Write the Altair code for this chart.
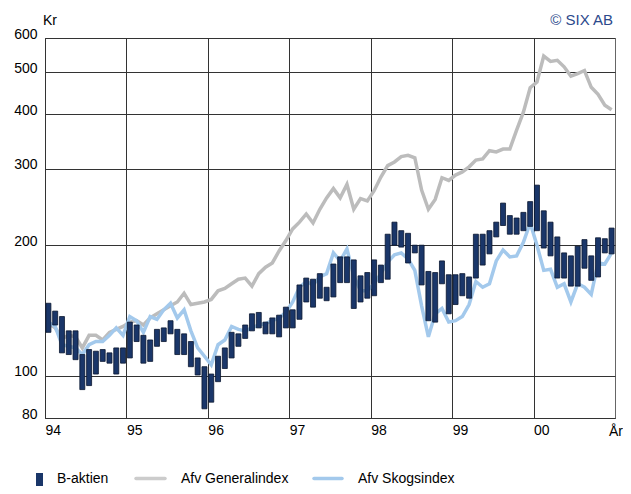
import altair as alt
import pandas as pd

start_year = 1994
year_ticks = [1994, 1995, 1996, 1997, 1998, 1999, 2000]
y_ticks = [80, 100, 200, 300, 400, 500, 600]

# B-aktien monthly range (high / low), Jan 1994 - Dec 2000
b_high = [147, 141, 137, 127, 127, 112, 115, 114, 115, 113, 116, 116,
          133, 131, 124, 121, 128, 129, 134, 128, 125, 120, 110, 105,
          101, 111, 116, 126, 125, 131, 139, 140, 133, 136, 138, 144,
          142, 162, 168, 167, 172, 160, 181, 188, 188, 185, 170, 173,
          185, 180, 212, 226, 216, 213, 200, 200, 174, 173, 184, 171,
          171, 172, 169, 212, 212, 216, 226, 250, 234, 231, 238, 252,
          275, 240, 226, 209, 192, 189, 199, 206, 189, 208, 207, 219]
b_low = [126, 131, 113, 112, 109, 93, 95, 101, 108, 107, 101, 107,
         110, 120, 107, 108, 117, 120, 125, 112, 112, 105, 100.5, 84,
         87, 97, 104, 110, 117, 122, 127, 129, 125, 125, 123, 129,
         129, 135, 148, 144, 151, 149, 152, 164, 164, 143, 148, 151,
         153, 164, 167, 200, 198, 182, 192, 162, 134, 133, 163, 139,
         146, 153, 151, 168, 180, 191, 209, 222, 212, 212, 216, 221,
         216, 197, 189, 168, 168, 161, 161, 177, 166, 169, 192, 191]

# Afv Generalindex (monthly)
general = [132, 129, 122, 124, 123, 116, 124, 124, 121, 126, 128, 130,
           133, 134, 131, 136, 139, 142, 145, 148, 155, 146, 147, 148,
           150, 157, 159, 163, 167, 168, 161, 172, 178, 182, 194, 205,
           218, 226, 236, 225, 242, 257, 270, 257, 276, 242, 256, 253,
           267, 287, 305, 311, 320, 322, 318, 268, 242, 255, 286, 282,
           290, 295, 303, 314, 316, 330, 328, 333, 333, 368, 405, 461,
           475, 545, 530, 533, 515, 490, 497, 505, 462, 445, 420, 410]

# Afv Skogsindex (monthly)
skog = [133, 130, 118, 117, 116, 112, 118, 120, 120, 124, 129, 124,
        137, 134, 126, 137, 135, 142, 147, 136, 142, 127, 116, 111,
        106, 118, 121, 130, 128, 127, 129, 131, 132, 134, 136, 140,
        148, 160, 165, 162, 169, 172, 192, 184, 196, 170, 157, 157,
        163, 172, 183, 190, 192, 186, 175, 145, 123, 139, 143, 133,
        134, 137, 146, 165, 160, 163, 184, 195, 188, 189, 203, 225,
        200, 175, 176, 160, 163, 148, 163, 160, 154, 182, 181, 192]

t = [start_year + (i + 0.5) / 12 for i in range(len(b_high))]
df = pd.DataFrame({"t": t, "high": b_high, "low": b_low,
                   "gen": general, "skog": skog})

FONT = "Liberation Sans"
NAVY = "#1a3669"
GREY = "#bcbcbc"
BLUE = "#a3c9ec"
GRID = "#333333"

xs = alt.Scale(domain=[1994, 2001], nice=False, zero=False, padding=0)
ys = alt.Scale(type="log", domain=[80, 600], nice=False, padding=0)

x_axis = alt.Axis(values=year_ticks,
                  labelExpr="substring(toString(datum.value), 2, 4)",
                  labelAlign="left", labelBaseline="top", labelPadding=5,
                  labelFlush=False, labelBound=False, labelOverlap=False,
                  ticks=False, grid=True, gridColor=GRID, gridWidth=1,
                  domain=True, domainColor=GRID, labelFontSize=14,
                  labelColor="#000", labelFont=FONT, title=None)
y_axis = alt.Axis(values=y_ticks, format="d", labelPadding=8,
                  labelBaseline="alphabetic", labelOverlap=False,
                  ticks=False, grid=True, gridColor=GRID, gridWidth=1,
                  domain=True, domainColor=GRID, labelFontSize=14,
                  labelColor="#000", labelFont=FONT, title=None)

base = alt.Chart(df)

gen_line = base.mark_line(color=GREY, strokeWidth=3.5).encode(
    x=alt.X("t:Q", scale=xs, axis=x_axis),
    y=alt.Y("gen:Q", scale=ys, axis=y_axis))

skog_line = base.mark_line(color=BLUE, strokeWidth=3.5).encode(
    x=alt.X("t:Q", scale=xs, axis=x_axis),
    y=alt.Y("skog:Q", scale=ys, axis=y_axis))

bars = base.mark_bar(size=5, fill=NAVY, stroke="#0a1630",
                     strokeWidth=0.8).encode(
    x=alt.X("t:Q", scale=xs, axis=x_axis),
    y=alt.Y("low:Q", scale=ys, axis=y_axis),
    y2="high:Q")

one = alt.Chart(pd.DataFrame({"a": [0]}))


def label(txt, x, y, align="left", size=14, color="#000"):
    return one.mark_text(text=txt, align=align, baseline="alphabetic",
                         fontSize=size, font=FONT, color=color).encode(
        x=alt.value(x), y=alt.value(y))


kr = label("Kr", -2, -13)
six = label("© SIX AB", 568, -13, align="right", size=15, color="#2c4a8c")
ar = label("År", 564, 398)

leg_box = one.mark_rect(color=NAVY).encode(
    x=alt.value(-9), x2=alt.value(-2), y=alt.value(435), y2=alt.value(448))
leg_t1 = label("B-aktien", 12, 445)
leg_gen = one.mark_rule(color="#cccccc", strokeWidth=3.5, strokeCap="round").encode(
    x=alt.value(91), x2=alt.value(120), y=alt.value(440.5))
leg_t2 = label("Afv Generalindex", 136, 445)
leg_skog = one.mark_rule(color=BLUE, strokeWidth=3.5, strokeCap="round").encode(
    x=alt.value(269), x2=alt.value(297), y=alt.value(440.5))
leg_t3 = label("Afv Skogsindex", 313, 445)

chart = alt.layer(gen_line, skog_line, bars, kr, six, ar,
                  leg_box, leg_t1, leg_gen, leg_t2, leg_skog, leg_t3).properties(
    width=570, height=380,
    autosize=alt.AutoSizeParams(type="none"),
    padding={"left": 37, "top": 30, "right": 8, "bottom": 68},
    background="white",
).configure_view(stroke="#666666", strokeWidth=1)

chart.save("out.html", embed_options={"renderer": "svg", "actions": False})
